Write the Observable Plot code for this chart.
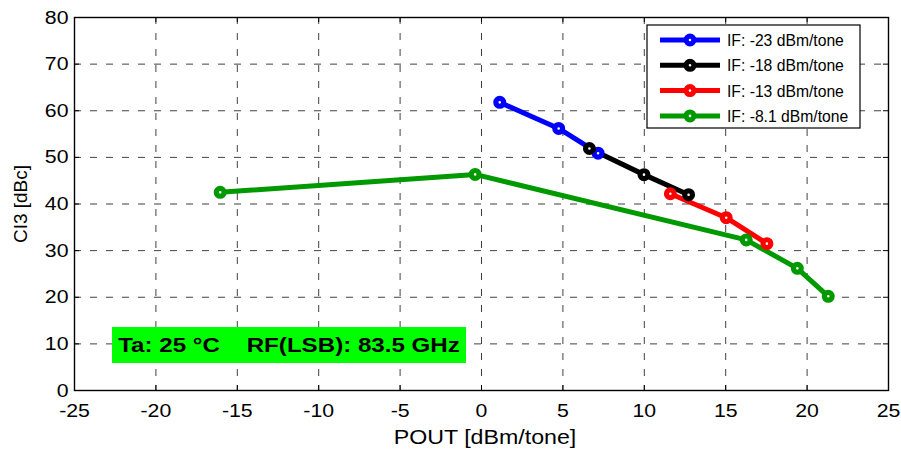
<!DOCTYPE html>
<html><head><meta charset="utf-8">
<script src="https://cdn.jsdelivr.net/npm/d3@7"></script>
<script src="https://cdn.jsdelivr.net/npm/@observablehq/plot@0.6"></script>
<style>
body{margin:0;background:#fff;font-family:"Liberation Sans",Arial,sans-serif;}
#chart{position:relative;width:901px;height:451px;}
</style></head>
<body><div id="chart"></div>
<script>
const seriesNames = ["IF: -23 dBm/tone","IF: -18 dBm/tone","IF: -13 dBm/tone","IF: -8.1 dBm/tone"];
const seriesColors = ["#0000ff","#000000","#ff0000","#009900"];
const pout23 = [1.12, 4.74, 7.16];
const ci3_23 = [61.8, 56.2, 50.9];
const pout18 = [6.63, 9.98, 12.72];
const ci3_18 = [51.9, 46.3, 42.0];
const pout13 = [11.6, 15.03, 17.53];
const ci3_13 = [42.2, 37.06, 31.5];
const pout8 = [-16.05, -0.39, 16.26, 19.4, 21.3];
const ci3_8 = [42.5, 46.35, 32.3, 26.2, 20.2];
const xTicks = [-25,-20,-15,-10,-5,0,5,10,15,20,25];
const yTicks = [0,10,20,30,40,50,60,70,80];
const xTitle = "POUT [dBm/tone]";
const yTitle = "CI3 [dBc]";
const annotation = "Ta: 25 °C    RF(LSB): 83.5 GHz";

const allX = [pout23,pout18,pout13,pout8];
const allY = [ci3_23,ci3_18,ci3_13,ci3_8];
const data = [];
allX.forEach((xs,i)=>xs.forEach((x,j)=>data.push({s:seriesNames[i], x, y: allY[i][j]})));

const W=901,H=451, mL=74, mR=13, mT=17, mB=61;
const tlx = 5*50/(W-mL-mR), tly = 5*80/(H-mT-mB);
const innerX = xTicks.slice(1,-1), innerY = yTicks.slice(1,-1);
const FONT = '"Liberation Sans",Arial,sans-serif';
const grid = {stroke:"#404040", strokeWidth:1, strokeDasharray:"7,9"};

const plot = Plot.plot({
  width:W, height:H, marginLeft:mL, marginRight:mR, marginTop:mT, marginBottom:mB,
  style:{fontFamily:FONT, fontSize:"19px", color:"#000", background:"#fff", overflow:"visible"},
  x:{domain:[-25,25], ticks:xTicks, label:null},
  y:{domain:[0,80], ticks:yTicks, label:null},
  color:{domain:seriesNames, range:seriesColors},
  marks:[
    Plot.ruleX(innerX,grid),
    Plot.ruleY(innerY,grid),
    Plot.ruleX(innerX,{y1:0,y2:tly,stroke:"#000"}),
    Plot.ruleX(innerX,{y1:80-tly,y2:80,stroke:"#000"}),
    Plot.ruleY(innerY,{x1:-25,x2:-25+tlx,stroke:"#000"}),
    Plot.ruleY(innerY,{x1:25-tlx,x2:25,stroke:"#000"}),
    Plot.frame({stroke:"#000", strokeWidth:1.4}),
    Plot.axisX({ticks:xTicks, tickSize:0, tickPadding:13, fontSize:19, label:null, tickFormat:d=>String(d)}),
    Plot.axisY({ticks:yTicks, tickSize:0, tickPadding:6, fontSize:19, label:null, tickFormat:d=>String(d)}),
    Plot.line(data,{x:"x",y:"y",z:"s",stroke:"s",strokeWidth:5}),
    Plot.dot(data,{x:"x",y:"y",stroke:"s",fill:"#fff",r:3.9,strokeWidth:5.2})
  ]
});
document.getElementById("chart").appendChild(plot);

const svg = d3.select(plot);
// stretch tick labels horizontally like the reference rendering
svg.selectAll('g[aria-label$="tick label"] text').each(function(){
  const t = d3.select(this);
  const tr = t.attr("transform") || "";
  t.attr("transform", tr + " scale(1.12,1)");
});

// axis titles
svg.append("text").attr("transform","translate(485,444) scale(1.16,1)").attr("text-anchor","middle")
  .attr("font-size",20).attr("fill","#000").text(xTitle);
svg.append("text").attr("transform","translate(27,204) rotate(-90)").attr("text-anchor","middle")
  .attr("font-size",19).attr("fill","#000").text(yTitle);

// annotation box
const ag = svg.append("g");
ag.append("rect").attr("x",112).attr("y",327).attr("width",354).attr("height",36).attr("fill","#00ff00");
ag.append("text").attr("transform","translate(289,352) scale(1.15,1)").attr("text-anchor","middle").attr("font-size",21)
  .attr("font-weight","bold").attr("fill","#000").style("white-space","pre").text(annotation);

// legend
const lg = svg.append("g");
lg.append("rect").attr("x",647).attr("y",25).attr("width",213).attr("height",103).attr("fill","#fff").attr("stroke","#000").attr("stroke-width",1.2);
seriesNames.forEach((n,i)=>{
  const y = 40 + i*25.3;
  lg.append("line").attr("x1",660).attr("x2",720).attr("y1",y).attr("y2",y).attr("stroke",seriesColors[i]).attr("stroke-width",5);
  lg.append("circle").attr("cx",690).attr("cy",y).attr("r",3.9).attr("fill","#fff").attr("stroke",seriesColors[i]).attr("stroke-width",5.2);
  lg.append("text").attr("x",727).attr("y",y+6).attr("text-anchor","start").attr("font-size",15.7).attr("fill","#000").text(n);
});
</script></body></html>
